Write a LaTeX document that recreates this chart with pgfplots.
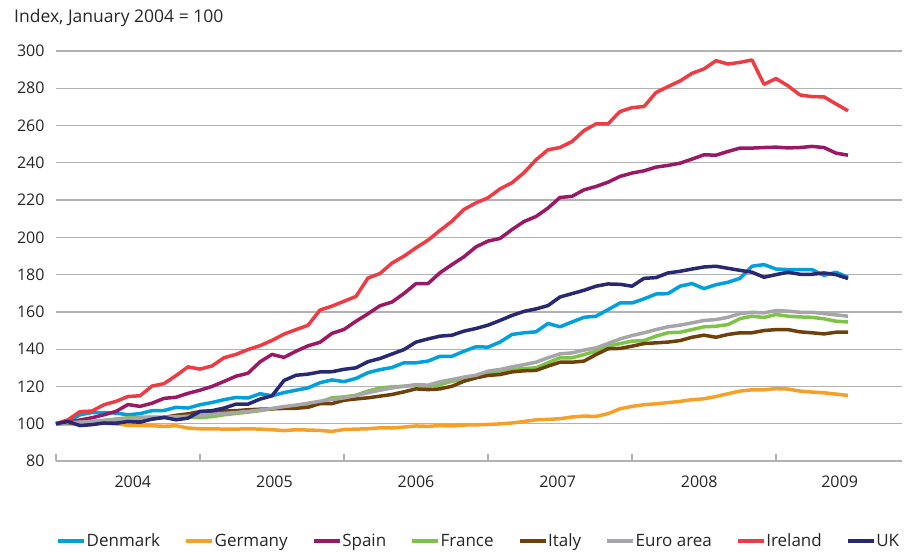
\documentclass[border=0pt]{standalone}
\usepackage{fontspec}
\setmainfont{Open Sans}
\usepackage{pgfplots}
\pgfplotsset{compat=1.18}
\usepackage{pgfplotstable}

\definecolor{dk}{RGB}{0,160,222}
\definecolor{de}{RGB}{247,160,40}
\definecolor{es}{RGB}{155,25,100}
\definecolor{fr}{RGB}{125,195,70}
\definecolor{it}{RGB}{110,65,10}
\definecolor{ea}{RGB}{165,165,170}
\definecolor{ie}{RGB}{238,60,68}
\definecolor{uk}{RGB}{40,40,115}
\definecolor{gridc}{RGB}{178,178,178}

% monthly index, m = 0 is January 2004
\pgfplotstableread{
m DK DE ES FR IT EA IE UK
0 100 100 100 100 100 100 100 100
1 101.2 100.6 100.8 100.3 100 100.5 102.1 101.2
2 104.8 100.5 102 100.8 100.2 100.8 106.5 99
3 106 100.4 103.2 101.2 100.5 101.2 106.8 99.5
4 106 100.2 104.8 101.8 101 101.7 110.2 100.4
5 105.7 100 106.6 102.5 101.5 102.2 112 100.2
6 104.8 99.1 110.3 103.2 102 102.7 114.6 101.2
7 105.4 99.1 109.3 103.5 102.2 103 115 100.8
8 107 98.9 111 103.6 102.5 103.3 120.2 102.5
9 107.1 98.6 113.6 103.4 103.4 103.5 121.5 103.4
10 108.8 98.9 114.2 103.5 104.5 103.7 125.8 102.1
11 108.4 97.7 116.3 103.6 105.3 104 130.5 103
12 110.2 97.3 118 103.3 106.5 104.5 129.3 106.6
13 111.4 97.3 120 103.8 106.6 105 131 107
14 112.9 97.1 122.7 104.8 106.8 105.5 135.4 108.4
15 114.1 97.1 125.5 105.5 107 106 137.2 110.5
16 113.8 97.3 127.1 106.2 107.5 106.6 139.8 110.5
17 116.1 97.1 133.2 107 107.8 107.3 141.9 113.2
18 115 96.8 137.2 108 108 108.2 144.7 115
19 116.7 96.3 135.6 108.9 108.2 109.2 148.1 123.2
20 118 96.8 138.9 109.6 108.3 110 150.5 126
21 119.2 96.6 141.8 110.4 108.8 111 152.8 126.6
22 122 96.4 143.7 111.6 110.8 112.1 161 127.8
23 123.5 95.9 148.5 113.9 110.8 113 163.1 127.9
24 122.6 96.9 150.6 114.4 112.6 113.9 165.7 129.2
25 124.3 97.1 155 115.3 113.3 115.1 168.3 130
26 127.4 97.3 159 117.5 113.9 116.6 178.2 133.3
27 129 97.8 163.3 119.2 114.8 118 180.6 135
28 130.2 97.7 165.3 119.8 115.7 119.2 186.2 137.4
29 132.7 98.2 169.9 120.1 117.1 120.1 189.9 139.8
30 132.7 98.8 175.2 120.5 118.7 121 194.4 143.8
31 133.6 98.6 175.2 120.1 118.3 120.7 198.5 145.5
32 136.2 99 181 121 118.7 122.5 203.7 147
33 136.2 98.8 185.4 122.8 120.1 123.7 208.7 147.5
34 138.9 99.3 189.6 124 122.8 125 215 149.7
35 141.3 99.4 194.9 125.5 124.6 126 218.5 151.1
36 141.1 99.6 198 126.4 125.9 128.2 221.2 152.9
37 143.8 99.9 199.4 127.7 126.4 129.1 226 155.4
38 147.9 100.4 204.2 129.1 127.8 130.5 229.3 158.1
39 148.8 101.2 208.5 129.6 128.4 131.7 234.7 160.3
40 149.3 102.1 211.2 130 128.6 133 241.6 161.6
41 153.8 102.3 215.7 132.7 130.9 135.4 247 163.4
42 152 102.7 221.4 135.4 133 137.5 248.2 168
43 154.6 103.6 222 135.4 133 138 251.4 169.8
44 157.1 104.1 225.5 137.1 133.6 139.5 257.3 171.6
45 157.7 103.9 227.3 138.9 137.1 140.7 260.9 173.8
46 161.2 105.4 229.6 141.6 140.2 143 260.9 175
47 164.8 108 232.7 143 140.4 145.5 267.5 174.8
48 164.8 109.3 234.5 144.3 141.6 147.3 269.6 173.8
49 167 110.2 235.7 144.6 143 148.8 270.2 178
50 169.6 110.7 237.7 147 143.4 150.5 277.7 178.4
51 169.8 111.3 238.6 148.8 143.8 152 280.9 180.9
52 173.8 112 239.8 149.1 144.6 152.9 283.9 181.8
53 175.2 112.9 242 150.5 146.4 154.1 288 183
54 172.5 113.4 244.3 152 147.5 155.4 290.4 184.1
55 174.6 114.6 244.1 152.3 146.4 155.9 294.8 184.5
56 175.9 116.1 246.1 153.2 147.9 157.1 293 183.4
57 178 117.5 247.9 156.4 148.8 159.1 293.9 182.3
58 184.5 118.2 247.9 157.7 148.8 159.8 295.2 181.3
59 185.4 118.2 248.2 157 150 159.5 282.1 178.6
60 183 118.8 248.4 158.6 150.5 160.7 285.2 180
61 182.7 118.6 248 157.7 150.5 160.4 281.3 181.3
62 182.7 117.5 248.2 157.3 149.3 159.8 276.4 180.2
63 182.7 117 248.8 157.1 148.8 159.8 275.5 180.2
64 179.6 116.6 248.2 156.3 148.2 159.1 275.4 180.9
65 181.3 115.9 245.2 155 149.1 158.4 271.6 180
66 178.6 115.2 244.1 154.6 149.1 157.7 267.9 177.9
}\idx

\begin{document}
\begin{tikzpicture}
\useasboundingbox (-56pt,-92pt) rectangle (849pt,461pt);
\begin{axis}[
  scale only axis, width=846pt, height=410pt,
  xmin=0, xmax=70.5, ymin=80, ymax=300,
  clip=false,
  axis lines*=left,
  y axis line style={draw=none},
  x axis line style={gridc, line width=1.3pt},
  ytick={80,100,...,300},
  ytick style={draw=none},
  ymajorgrids,
  grid style={gridc, line width=1.3pt},
  xtick={0,12,...,60},
  xticklabels={,,,,,},
  xtick style={gridc, line width=1.3pt},
  xtick align=inside,
  major tick length=7pt,
  extra x ticks={6.4,18.2,30,41.8,53.6,65.3},
  extra x tick labels={2004,2005,2006,2007,2008,2009},
  extra x tick style={tick style={draw=none}, grid=none},
  tick label style={font=\fontsize{16}{19}\selectfont, text=black!85},
  /pgf/number format/assume math mode=true,
  yticklabel style={xshift=-8pt},
  xticklabel style={yshift=-11pt},
  every axis plot/.append style={line width=3.5pt, line join=round, no marks},
  legend columns=8,
  legend style={draw=none, at={(0.499,-0.195)}, anchor=center,
    font=\fontsize{17}{20}\selectfont, text=black!85,
    nodes={inner sep=0.5pt},
    /tikz/every even column/.append style={column sep=24pt}},
  legend image code/.code={\draw[#1, line width=3.5pt] (0pt,0pt) -- (26pt,0pt);},
]
\addplot[dk] table[x=m, y=DK] {\idx};
\addlegendentry{Denmark}
\addplot[de] table[x=m, y=DE] {\idx};
\addlegendentry{Germany}
\addplot[es] table[x=m, y=ES] {\idx};
\addlegendentry{Spain}
\addplot[fr] table[x=m, y=FR] {\idx};
\addlegendentry{France}
\addplot[it] table[x=m, y=IT] {\idx};
\addlegendentry{Italy}
\addplot[ea] table[x=m, y=EA] {\idx};
\addlegendentry{Euro area}
\addplot[ie] table[x=m, y=IE] {\idx};
\addlegendentry{Ireland}
\addplot[uk] table[x=m, y=UK] {\idx};
\addlegendentry{UK}
\node[anchor=base west, inner sep=0pt, font=\fontsize{17.5}{21}\selectfont, text=black!85]
  at (rel axis cs:-0.0496,1.0707) {Index, January 2004 = 100};
\end{axis}
\end{tikzpicture}
\end{document}
